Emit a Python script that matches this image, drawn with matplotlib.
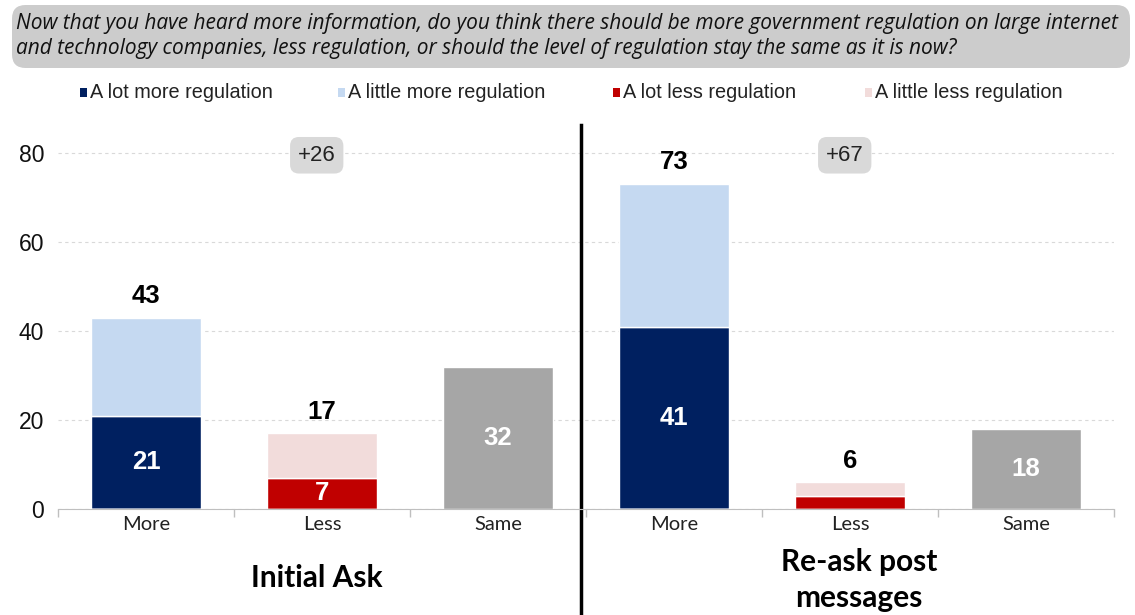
import matplotlib
matplotlib.use("Agg")
import matplotlib.pyplot as plt
from matplotlib.patches import FancyBboxPatch
import numpy as np

# ---- data ----
categories = ["More", "Less", "Same", "More", "Less", "Same"]
groups = ["Initial Ask", "Re-ask post\nmessages"]
lot_more = [21, 0, 0, 41, 0, 0]
little_more = [22, 0, 0, 32, 0, 0]
lot_less = [0, 7, 0, 0, 3, 0]
little_less = [0, 10, 0, 0, 3, 0]
same = [0, 0, 32, 0, 0, 18]
totals = [43, 17, None, 73, 6, None]
inner_labels = ["21", "7", "32", "41", "", "18"]
net_labels = ["+26", "+67"]
yticks = [0, 20, 40, 60, 80]
title = ("Now that you have heard more information, do you think there should be more government regulation on large internet\n"
         "and technology companies, less regulation, or should the level of regulation stay the same as it is now?")
legend_labels = ["A lot more regulation", "A little more regulation", "A lot less regulation", "A little less regulation"]

C_NAVY = "#002060"
C_LBLUE = "#C5D9F1"
C_RED = "#C00000"
C_PINK = "#F2DCDB"
C_GRAY = "#A6A6A6"

fig = plt.figure(figsize=(11.35, 6.15), dpi=100)
ax = fig.add_axes([58/1135, 1 - 509/615, (1114-58)/1135, (509-125)/615])

x = np.arange(len(categories))
w = 0.625
kw = dict(width=w, edgecolor="white", linewidth=1)
ax.bar(x, lot_more, color=C_NAVY, **kw)
ax.bar(x, little_more, bottom=lot_more, color=C_LBLUE, **kw)
ax.bar(x, lot_less, color=C_RED, **kw)
ax.bar(x, little_less, bottom=lot_less, color=C_PINK, **kw)
ax.bar(x, same, color=C_GRAY, **kw)

ax.set_xlim(-0.5, 5.5)
ax.set_ylim(0, 86.3)
ax.set_yticks(yticks)
ax.set_yticklabels([str(t) for t in yticks], fontsize=16.5, family="Liberation Sans", color="#111111")
ax.tick_params(axis="y", length=0, pad=10)
ax.set_xticks(x)
ax.set_xticklabels(categories, fontsize=14.5, family="Lato", color="#222222")
ax.set_xticks(np.arange(-0.5, 6, 1), minor=True)
ax.tick_params(axis="x", which="major", length=0, pad=5)
ax.tick_params(axis="x", which="minor", length=6, color="#BFBFBF", width=1)
for s in ["top", "right", "left"]:
    ax.spines[s].set_visible(False)
ax.spines["bottom"].set_color("#BFBFBF")
ax.grid(axis="y", color="#D9D9D9", linestyle=(0, (3, 3)), linewidth=0.8)
ax.set_axisbelow(True)

# totals above bars
for i, t in enumerate(totals):
    if t is not None:
        ax.text(x[i], t + 2.2, str(t), ha="center", va="bottom", fontsize=18.5,
                fontweight="bold", family="Liberation Sans", color="black")
# inner labels
inner_vals = [lot_more[i] + lot_less[i] + same[i] for i in range(len(x))]
for i, lab in enumerate(inner_labels):
    if lab:
        ax.text(x[i], inner_vals[i] / 2, lab, ha="center", va="center", fontsize=18.5,
                fontweight="bold", family="Liberation Sans", color="white")

# net labels
for gx, lab in zip([1, 4], net_labels):
    ax.text(gx - 0.03, 79.5, lab, ha="center", va="center", fontsize=16, family="Liberation Sans",
            color="#222222",
            bbox=dict(boxstyle="round,pad=0.35,rounding_size=0.4", fc="#D9D9D9", ec="none"))

# group labels
ax.text(0.97, -0.18, groups[0], transform=ax.get_xaxis_transform(), ha="center", va="center",
        fontsize=21.5, fontweight="bold", family="Lato")
ax.text(4.05, -0.185, groups[1], transform=ax.get_xaxis_transform(), ha="center", va="center",
        fontsize=21.5, fontweight="bold", family="Lato", linespacing=1.35)

# divider
ax.plot([2.47, 2.47], [-0.3, 1.0], transform=ax.get_xaxis_transform(), color="black",
        linewidth=2.5, clip_on=False)

# title box
box = FancyBboxPatch((12/1135, 1 - 68/615), (1130-12)/1135, (68-5)/615,
                     boxstyle="round,pad=0,rounding_size=0.012", transform=fig.transFigure,
                     fc="#CCCCCC", ec="none", mutation_aspect=1135/615)
fig.patches.append(box)
fig.text(16/1135, 1 - 36/615, title, ha="left", va="center", fontsize=15, style="italic",
         family="Open Sans", color="#111111", linespacing=1.2)

# legend
leg_colors = [C_NAVY, C_LBLUE, C_RED, C_PINK]
leg_x = [80, 338, 613, 865]
for lx, c, lab in zip(leg_x, leg_colors, legend_labels):
    fig.patches.append(plt.Rectangle((lx/1135, 1 - 97/615), 7/1135, 9/615, transform=fig.transFigure,
                                     fc=c, ec="none"))
    fig.text((lx + 10)/1135, 1 - 93/615, lab, ha="left", va="center", fontsize=14.3,
             family="Liberation Sans", color="#222222")

fig.savefig("out.png", dpi=100)
